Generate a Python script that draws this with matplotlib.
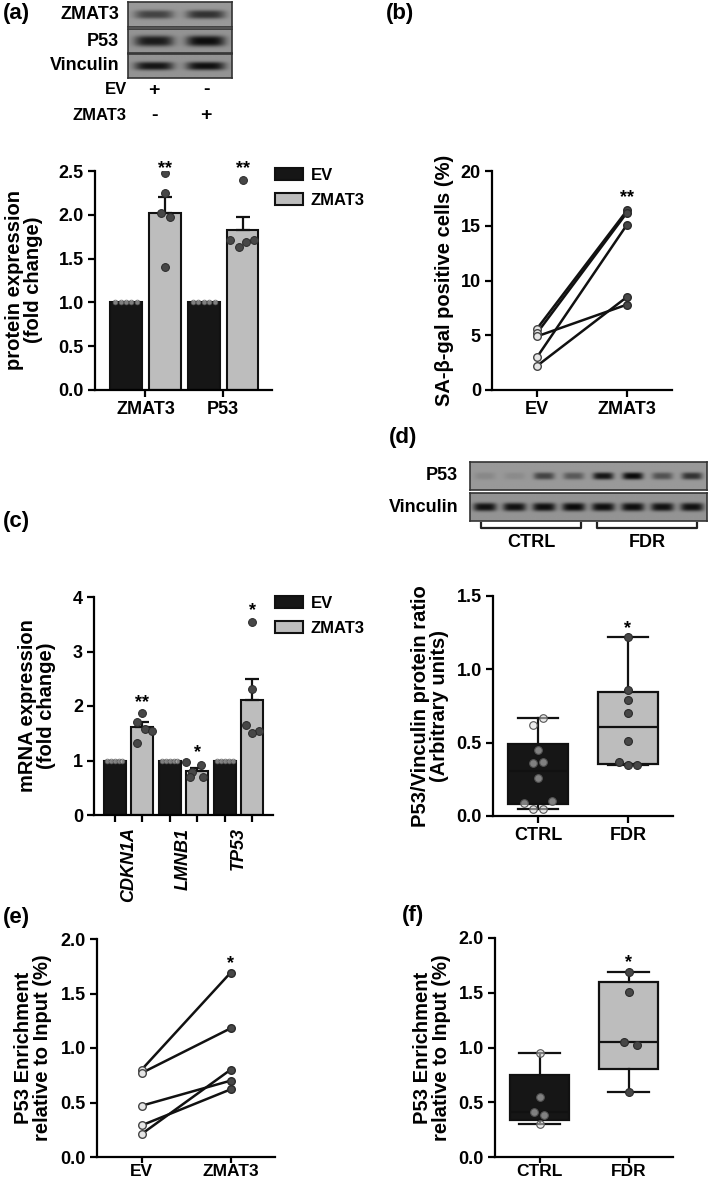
import numpy as np
import matplotlib
matplotlib.use("Agg")
import matplotlib.pyplot as plt
from matplotlib.patches import Patch

plt.rcParams['font.family'] = ['Liberation Sans', 'DejaVu Sans']
plt.rcParams['font.weight'] = 'bold'
plt.rcParams['axes.linewidth'] = 1.6

# ---- data ----
# (a) blot band strength per lane (EV, ZMAT3)
blot_a_rows = ['ZMAT3', 'P53', 'Vinculin']
blot_a_bands = [[0.6, 0.72], [0.88, 0.98], [0.92, 0.96]]
blot_a_ev = ['+', '-']
blot_a_zmat3 = ['-', '+']

# (a) protein densitometry
prot_targets = ['ZMAT3', 'P53']
prot_ev = [[1.0, 1.0, 1.0, 1.0, 1.0], [1.0, 1.0, 1.0, 1.0, 1.0]]
prot_zmat3 = [[2.48, 2.25, 2.02, 1.97, 1.40], [2.40, 1.71, 1.63, 1.69, 1.71]]
prot_stars = ['**', '**']
prot_star_y = [2.60, 2.60]

# (b) SA-beta-gal, paired
sa_ev = [5.6, 5.2, 4.9, 3.0, 2.2]
sa_zmat3 = [16.4, 16.2, 7.8, 15.1, 8.5]
sa_star, sa_star_y = '**', 18.1

# (c) mRNA
genes = ['CDKN1A', 'LMNB1', 'TP53']
mrna_ev = [[1.0] * 5, [1.0] * 5, [1.0] * 5]
mrna_zmat3 = [[1.88, 1.70, 1.58, 1.55, 1.33],
              [0.97, 0.92, 0.78, 0.70, 0.70],
              [3.55, 2.32, 1.65, 1.55, 1.50]]
mrna_stars = ['**', '*', '*']
mrna_star_y = [2.17, 1.25, 3.85]

# (d) blot + ratio
blot_d_p53 = [0.12, 0.1, 0.6, 0.45, 0.92, 1.0, 0.5, 0.72]
blot_d_vinc = [0.95, 0.95, 0.97, 1.0, 0.97, 0.97, 0.95, 0.95]
ratio_ctrl = [0.67, 0.62, 0.45, 0.37, 0.36, 0.26, 0.10, 0.09, 0.05, 0.05]
ratio_fdr = [1.22, 0.86, 0.79, 0.70, 0.51, 0.37, 0.35, 0.35]
ratio_star_y = 1.32

# (e) ChIP, paired
chip_ev = [0.80, 0.77, 0.47, 0.29, 0.21]
chip_zmat3 = [1.69, 1.18, 0.70, 0.62, 0.80]
chip_star_y = 1.83

# (f) ChIP in CTRL / FDR
chip_ctrl = [0.95, 0.55, 0.41, 0.38, 0.30]
chip_fdr = [1.69, 1.51, 1.05, 1.02, 0.59]
chipf_star_y = 1.83

# point spread (horizontal jitter as drawn)
prot_jit = [[0, 0, -0.11, 0.13, 0], [0, -0.32, -0.1, 0.1, 0.3]]
mrna_jit = [[0, -0.19, 0.12, 0.36, -0.19], [-0.4, 0.15, -0.2, -0.25, 0.2], [0, 0, -0.24, 0.24, 0]]
ratio_ctrl_jit = [0.05, -0.06, 0, 0.05, -0.06, 0, 0.15, -0.16, -0.06, 0.05]
ratio_fdr_jit = [0, 0, 0, 0, 0, -0.1, 0, 0.1]
chip_ctrl_jit = [0, 0, -0.06, 0.05, 0]
chip_fdr_jit = [0, 0, -0.05, 0.1, 0]

DARK = '#161616'
LIGHT = '#bdbdbd'
PT_DARK = '#474747'
PT_LIGHT = (0.86, 0.86, 0.86, 0.55)
FS_TICK = 13
FS_LAB = 14.5

W, H = 709, 1182
fig = plt.figure(figsize=(W / 100, H / 100), dpi=100)


def add_ax(x0, y0, x1, y1):
    return fig.add_axes([x0 / W, 1 - y1 / H, (x1 - x0) / W, (y1 - y0) / H])


def style(ax):
    ax.spines[['top', 'right']].set_visible(False)
    ax.tick_params(width=1.6, length=5, labelsize=FS_TICK, pad=3)


def star(ax, x, y, s):
    ax.annotate(s, (x, y), xytext=(0, -7.5), textcoords='offset points',
                ha='center', va='baseline', fontsize=13, annotation_clip=False)


def blot(ax, bands, bg=0.6, width=0.75, height=0.4):
    n = len(bands)
    X, Y = np.meshgrid(np.linspace(0, n, 60 * n), np.linspace(0, 1, 80))
    img = np.full_like(X, bg)
    for i, s in enumerate(bands):
        prof = np.exp(-(np.abs(X - i - 0.5) / (width / 2)) ** 4
                      - (np.abs(Y - 0.5) / (height / 2)) ** 3)
        img = img - s * (bg - 0.04) * prof
    ax.imshow(img, cmap='gray', vmin=0, vmax=1, extent=(0, n, 0, 1),
              aspect='auto', interpolation='bilinear')
    ax.set_xticks([])
    ax.set_yticks([])
    ax.autoscale(False)
    for sp in ax.spines.values():
        sp.set_linewidth(1.2)
        sp.set_color('#333333')


def sem(v):
    v = np.asarray(v, float)
    return v.std(ddof=1) / np.sqrt(len(v))


def box_stats(v):
    v = np.asarray(v, float)
    q1, med, q3 = np.percentile(v, [25, 50, 75], method='weibull')
    return dict(med=med, q1=q1, q3=q3, whislo=v.min(), whishi=v.max(), fliers=[])


def grouped_bars(ax, ev, zm, jit, width):
    for g in range(len(ev)):
        for k, (vals, col) in enumerate([(ev[g], DARK), (zm[g], LIGHT)]):
            x = 2 * g + k
            m = np.mean(vals)
            ax.bar(x, m, width=width, color=col, edgecolor='#111111', lw=1.5, zorder=2)
            s = sem(vals)
            if s > 0:
                ax.errorbar(x, m, yerr=[[0], [s]], color='#111111', lw=1.6,
                            capsize=5, capthick=1.6, zorder=2)
            if k == 0:
                ax.scatter(x + np.linspace(-0.28, 0.28, len(vals)), vals, s=12,
                           color=PT_LIGHT, edgecolors='#555555', linewidths=0.5, zorder=3)
            else:
                ax.scatter(x + np.array(jit[g]), vals, s=32, color=PT_DARK,
                           edgecolors='#2a2a2a', linewidths=0.7, zorder=3)


def legend(ax, x, y):
    handles = [Patch(facecolor=DARK, edgecolor='#111111', lw=1.5, label='EV'),
               Patch(facecolor=LIGHT, edgecolor='#111111', lw=1.5, label='ZMAT3')]
    ax.legend(handles=handles, loc='upper left', bbox_to_anchor=(x / W, 1 - y / H),
              bbox_transform=fig.transFigure, frameon=False, fontsize=12,
              handlelength=1.65, handleheight=0.75, handletextpad=0.5,
              labelspacing=0.6, borderpad=0, borderaxespad=0)


def paired(ax, a, b):
    for u, v in zip(a, b):
        ax.plot([0, 1], [u, v], color='#111111', lw=1.8, zorder=2)
    ax.scatter(np.zeros(len(a)), a, s=30, color='#e6e6e6', edgecolors='#444444', lw=1, zorder=3)
    ax.scatter(np.ones(len(b)), b, s=30, color=PT_DARK, edgecolors='#2a2a2a', lw=1, zorder=3)
    ax.set_xlim(-0.5, 1.5)
    ax.set_xticks([0, 1], ['EV', 'ZMAT3'])


def boxes(ax, ctrl, fdr, cj, fj):
    st = [box_stats(ctrl), box_stats(fdr)]
    b = ax.bxp(st, positions=[0, 1], widths=0.66, capwidths=[0.45, 0.45],
               patch_artist=True, showfliers=False,
               boxprops=dict(lw=1.6, edgecolor='#111111'),
               medianprops=dict(color='#111111', lw=1.6),
               whiskerprops=dict(color='#111111', lw=1.6),
               capprops=dict(color='#111111', lw=1.6))
    b['boxes'][0].set_facecolor(DARK)
    b['boxes'][1].set_facecolor(LIGHT)
    ax.scatter(np.array(cj), ctrl, s=30, color=PT_LIGHT, edgecolors='#555555', lw=0.8, zorder=3)
    ax.scatter(1 + np.array(fj), fdr, s=32, color=PT_DARK, edgecolors='#2a2a2a', lw=0.8, zorder=3)
    ax.set_xlim(-0.5, 1.5)
    ax.set_xticks([0, 1], ['CTRL', 'FDR'])


# ---------- (a) blot ----------
row_px = [(2, 27), (29, 53), (54, 78)]
blot_axes = []
for name, bands, (y0, y1) in zip(blot_a_rows, blot_a_bands, row_px):
    bx = add_ax(128, y0, 232, y1)
    hgt = 0.45 if name == 'P53' else 0.35
    blot(bx, bands, bg=0.58 if name != 'ZMAT3' else 0.6, height=hgt)
    bx.text(-0.17, 0.5, name, ha='right', va='center', fontsize=13,
            transform=bx.transData, clip_on=False)
    blot_axes.append(bx)
bv = blot_axes[-1]
for label, signs, yy in [('EV', blot_a_ev, -0.5), ('ZMAT3', blot_a_zmat3, -1.55)]:
    bv.text(-0.02, yy, label, ha='right', va='center', fontsize=12)
    for i, s in enumerate(signs):
        bv.text(i + 0.5, yy, s, ha='center', va='center', fontsize=14)

# ---------- (a) bars ----------
ax = add_ax(95, 171, 272, 390)
grouped_bars(ax, prot_ev, prot_zmat3, prot_jit, 0.82)
ax.set_xlim(-0.8, 3.76)
ax.set_ylim(0, 2.5)
ax.set_yticks(np.arange(0, 2.51, 0.5))
ax.yaxis.set_major_formatter('{x:.1f}')
ax.set_xticks([0.5, 2.5], prot_targets)
for g, (s, y) in enumerate(zip(prot_stars, prot_star_y)):
    star(ax, 2 * g + 1, y, s)
style(ax)
legend(ax, 275, 168)

# ---------- (b) ----------
ax = add_ax(492, 171, 672, 390)
paired(ax, sa_ev, sa_zmat3)
ax.set_ylim(0, 20)
ax.set_yticks([0, 5, 10, 15, 20])
star(ax, 1, sa_star_y, sa_star)
style(ax)

# ---------- (c) ----------
ax = add_ax(94, 597, 273, 815)
grouped_bars(ax, mrna_ev, mrna_zmat3, mrna_jit, 0.8)
ax.set_xlim(-0.75, 5.75)
ax.set_ylim(0, 4)
ax.set_yticks([0, 1, 2, 3, 4])
ax.set_xticks(range(6), [''] * 6)
ax.set_xticks([0.5, 2.5, 4.5], genes, minor=True)
for t in ax.get_xticklabels(minor=True):
    t.set_rotation(90)
    t.set_fontstyle('italic')
for g, (s, y) in enumerate(zip(mrna_stars, mrna_star_y)):
    star(ax, 2 * g + 1, y, s)
style(ax)
ax.tick_params(axis='x', which='minor', length=0, pad=9, labelsize=FS_TICK)
legend(ax, 275, 596)

# ---------- (d) blot ----------
bp = add_ax(470, 462, 707, 490)
blot(bp, blot_d_p53, bg=0.6, width=0.7, height=0.26)
bvn = add_ax(470, 493, 707, 521)
blot(bvn, blot_d_vinc, bg=0.58, width=0.78, height=0.3)
for bx, name in [(bp, 'P53'), (bvn, 'Vinculin')]:
    bx.text(-0.4, 0.5, name, ha='right', va='center', fontsize=13,
            transform=bx.transData, clip_on=False)
for x0, x1, name in [(0.37, 3.75, 'CTRL'), (4.29, 7.67, 'FDR')]:
    bvn.plot([x0, x0, x1, x1], [-0.07, -0.25, -0.25, -0.07], color='#222222',
             lw=1.6, clip_on=False)
    bvn.text((x0 + x1) / 2, -0.78, name, ha='center', va='center', fontsize=13)

# ---------- (d) box ----------
ax = add_ax(493, 596, 673, 816)
boxes(ax, ratio_ctrl, ratio_fdr, ratio_ctrl_jit, ratio_fdr_jit)
ax.set_ylim(0, 1.5)
ax.set_yticks([0, 0.5, 1.0, 1.5])
ax.yaxis.set_major_formatter('{x:.1f}')
star(ax, 1, ratio_star_y, '*')
style(ax)

# ---------- (e) ----------
ax = add_ax(97, 939, 275, 1157)
paired(ax, chip_ev, chip_zmat3)
ax.set_ylim(0, 2)
ax.set_yticks([0, 0.5, 1.0, 1.5, 2.0])
ax.yaxis.set_major_formatter('{x:.1f}')
star(ax, 1, chip_star_y, '*')
style(ax)
ax.tick_params(axis='x', length=4, pad=1, labelsize=12.5)

# ---------- (f) ----------
ax = add_ax(495, 938, 673, 1157)
boxes(ax, chip_ctrl, chip_fdr, chip_ctrl_jit, chip_fdr_jit)
ax.set_ylim(0, 2)
ax.set_yticks([0, 0.5, 1.0, 1.5, 2.0])
ax.yaxis.set_major_formatter('{x:.1f}')
star(ax, 1, chipf_star_y, '*')
style(ax)
ax.tick_params(axis='x', length=4, pad=1, labelsize=12.5)

# ---------- y labels and panel letters ----------
ylabels = [(24, 280, 'protein expression\n(fold change)'),
           (445, 280, 'SA-β-gal positive cells (%)'),
           (37, 706, 'mRNA expression\n(fold change)'),
           (430, 706, 'P53/Vinculin protein ratio\n(Arbitrary units)'),
           (33, 1048, 'P53 Enrichment\nrelative to Input (%)'),
           (432, 1048, 'P53 Enrichment\nrelative to Input (%)')]
for x, y, s in ylabels:
    fig.text(x / W, 1 - y / H, s, rotation=90, ha='center', va='center',
             multialignment='center', fontsize=FS_LAB, linespacing=1.05)

for x, y, s in [(16, 14, '(a)'), (400, 13, '(b)'), (16, 522, '(c)'),
                (403, 438, '(d)'), (16, 917, '(e)'), (413, 915, '(f)')]:
    fig.text(x / W, 1 - y / H, s, ha='center', va='center', fontsize=16)

fig.savefig('out.png', dpi=100)
